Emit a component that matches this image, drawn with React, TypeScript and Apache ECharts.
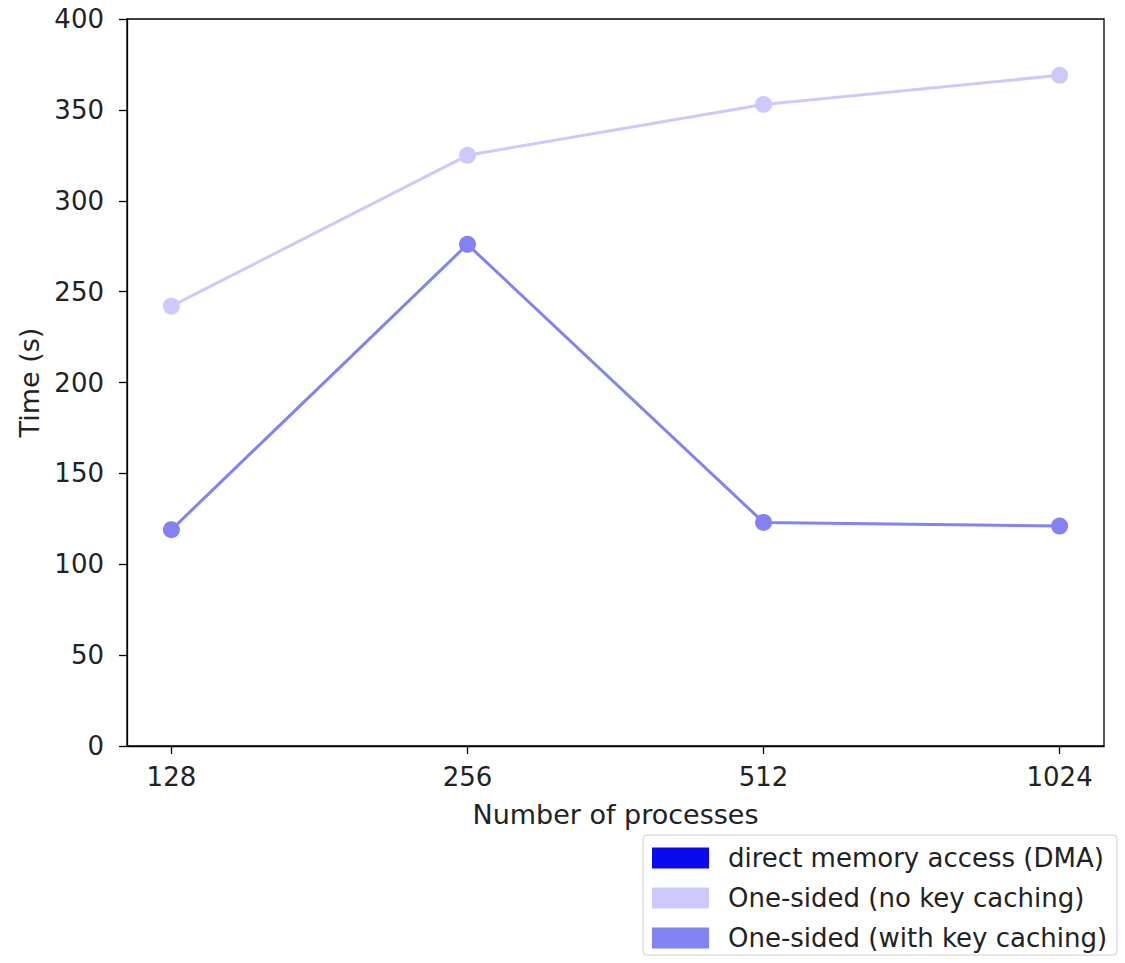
import React, { useEffect, useRef } from "react";
import * as echarts from "echarts";

const categories = ["128", "256", "512", "1024"];
const yTicks = [0, 50, 100, 150, 200, 250, 300, 350, 400];
const dmaValues: number[] = [];
const noCacheValues = [242, 325, 353, 369];
const withCacheValues = [119, 276, 123, 121];

const seriesNames = [
  "direct memory access (DMA)",
  "One-sided (no key caching)",
  "One-sided (with key caching)",
];
const colors = ["#0a0af0", "#cdc9ff", "#8282f4"];

const FONT = "DejaVu Sans";

export default function App() {
  const ref = useRef<HTMLDivElement>(null);
  useEffect(() => {
    if (!ref.current) return;
    const chart = echarts.init(ref.current, undefined, { renderer: "svg" });
    const toPts = (vals: number[]) => vals.map((v, i) => [i, v]);
    const idx = categories.map((_, i) => i);
    chart.setOption({
      animation: false,
      backgroundColor: "#fff",
      textStyle: { fontFamily: FONT },
      grid: {
        left: 127,
        right: 21,
        top: 19,
        bottom: 217,
        show: true,
        borderColor: "#000",
        borderWidth: 1.3,
        containLabel: false,
      },
      legend: {
        orient: "vertical",
        left: 643,
        top: 835,
        icon: "rect",
        itemWidth: 57,
        itemHeight: 21,
        itemGap: 14,
        padding: [10, 10, 4, 9],
        borderColor: "#d0d0d0",
        borderWidth: 1,
        borderRadius: 4,
        backgroundColor: "#fff",
        textStyle: { fontFamily: FONT, fontSize: 26, color: "#222", padding: [0, 0, 0, 14] },
        data: seriesNames,
      },
      xAxis: {
        type: "value",
        min: -0.15,
        max: 3.15,
        name: "Number of processes",
        nameLocation: "middle",
        nameGap: 55,
        nameTextStyle: { fontFamily: FONT, fontSize: 27, color: "#222" },
        axisLine: { show: true, onZero: false, lineStyle: { color: "#000", width: 1.3 } },
        axisTick: { show: true, customValues: idx, length: 8, lineStyle: { color: "#000", width: 1.3 } },
        axisLabel: {
          customValues: idx,
          formatter: (v: number) => categories[Math.round(v)] ?? "",
          fontFamily: FONT,
          fontSize: 26,
          color: "#222",
          margin: 18,
        },
        splitLine: { show: false },
      },
      yAxis: {
        type: "value",
        min: yTicks[0],
        max: yTicks[yTicks.length - 1],
        interval: 50,
        name: "Time (s)",
        nameLocation: "middle",
        nameGap: 81,
        nameTextStyle: { fontFamily: FONT, fontSize: 27, color: "#222" },
        axisLine: { show: true, onZero: false, lineStyle: { color: "#000", width: 1.3 } },
        axisTick: { show: true, length: 8, lineStyle: { color: "#000", width: 1.3 } },
        axisLabel: { fontFamily: FONT, fontSize: 26, color: "#222", margin: 23 },
        splitLine: { show: false },
      },
      series: [
        {
          name: seriesNames[0],
          type: "line",
          data: toPts(dmaValues),
          itemStyle: { color: colors[0] },
          lineStyle: { color: colors[0] },
        },
        {
          name: seriesNames[1],
          type: "line",
          data: toPts(noCacheValues),
          symbol: "circle",
          symbolSize: 17,
          itemStyle: { color: colors[1] },
          lineStyle: { color: colors[1], width: 3 },
        },
        {
          name: seriesNames[2],
          type: "line",
          data: toPts(withCacheValues),
          symbol: "circle",
          symbolSize: 17,
          itemStyle: { color: colors[2] },
          lineStyle: { color: colors[2], width: 3 },
        },
      ],
    });
    return () => chart.dispose();
  }, []);
  return (
    <div
      ref={ref}
      style={{ position: "absolute", left: 0, top: 0, width: 1125, height: 963 }}
    />
  );
}
